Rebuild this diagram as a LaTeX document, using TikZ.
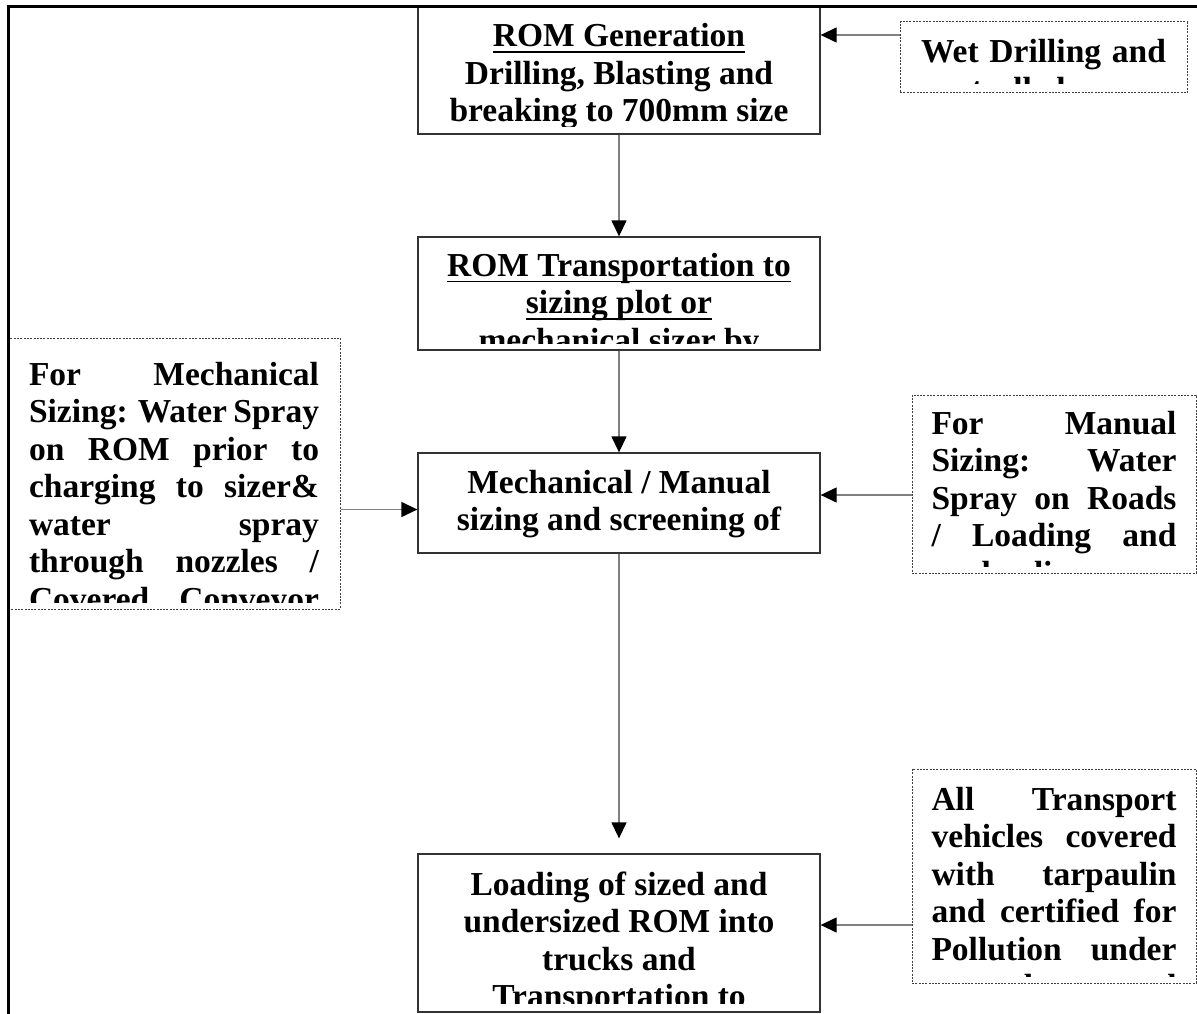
\documentclass[tikz,border=0pt]{standalone}
\usepackage{fontspec}
\setmainfont{Liberation Serif}
\usetikzlibrary{arrows.meta}
\newsavebox{\ulbox}
\newcommand{\ulin}[1]{\leavevmode\sbox{\ulbox}{#1}\rlap{\rule[-6.3pt]{\wd\ulbox}{1.8pt}}\usebox{\ulbox}}
\newcommand{\jl}[1]{\makebox[\linewidth][s]{#1}}
\newcommand{\clipinset}{7pt}
\tikzset{
  clipinset/.store in=\clipinset,
  flowbox/.style={draw=black!80, line width=1.3pt, minimum width=402pt, inner sep=0pt},
  notebox/.style={draw=black!75, line width=1pt, dash pattern=on 2pt off 1.3pt, inner sep=0pt},
  boxtext/.style 2 args={path picture={
      \clip ([yshift=\clipinset]path picture bounding box.south west)
        rectangle (path picture bounding box.north east);
      \node[anchor=base, inner sep=0pt, draw=none, solid, minimum width=0pt, minimum height=0pt,
        font=\fontsize{33.5pt}{37.5pt}\selectfont\bfseries]
        at ([yshift=-#1]path picture bounding box.north) {#2};}},
  flowarrow/.style={draw=black!50, line width=1.3pt, -{Triangle[length=16pt,width=15pt,color=black]}}
}
\begin{document}
\begin{tikzpicture}[x=1pt, y=-1pt]
  \useasboundingbox (0,0) rectangle (1197,1014);
  % main flow
  \node[flowbox, minimum height=128pt, boxtext={41pt}{\parbox[t]{390pt}{\centering
      \ulin{ROM Generation}\\ Drilling, Blasting and\\ breaking to 700mm size}}] (gen) at (619,70) {};
  \node[flowbox, minimum height=113pt, boxtext={39pt}{\parbox[t]{390pt}{\centering
      \ulin{ROM Transportation to}\\ \ulin{sizing plot or}\\ \ulin{mechanical sizer by}}}] (trans) at (619,293.5) {};
  \node[flowbox, minimum height=100pt, boxtext={40pt}{\parbox[t]{390pt}{\centering
      Mechanical / Manual\\ sizing and screening of}}] (size) at (619,503) {};
  \node[flowbox, minimum height=158pt, clipinset=9pt, boxtext={41pt}{\parbox[t]{390pt}{\centering
      Loading of sized and\\ undersized ROM into\\ trucks and\\ Transportation to}}] (load) at (619,933) {};
  % control measures
  \node[notebox, minimum width=287pt, minimum height=71pt, clipinset=9pt, boxtext={41pt}{\parbox[t]{245pt}{
      \jl{Wet Drilling and}\\ controlled}}] (wet) at (1043.5,57.5) {};
  \node[notebox, minimum width=332pt, minimum height=271pt, boxtext={47pt}{\parbox[t]{290pt}{
      \jl{For Mechanical}\\ \jl{Sizing: Water Spray}\\ \jl{on ROM prior to}\\
      \jl{charging to sizer\&}\\ \jl{water spray}\\ \jl{through nozzles /}\\
      \jl{Covered Conveyor}}}] (spray) at (174,473.5) {};
  \node[notebox, minimum width=284pt, minimum height=178pt, boxtext={39pt}{\parbox[t]{245pt}{
      \jl{For Manual}\\ \jl{Sizing: Water}\\ \jl{Spray on Roads}\\ \jl{/ Loading and}\\
      \jl{up loading areas}}}] (manual) at (1054,484) {};
  \node[notebox, minimum width=284pt, minimum height=214pt, boxtext={41pt}{\parbox[t]{245pt}{
      \jl{All Transport}\\ \jl{vehicles covered}\\ \jl{with tarpaulin}\\ \jl{and certified for}\\
      \jl{Pollution under}\\ \jl{control and}}}] (transport) at (1054,876) {};
  % connectors
  \coordinate (wetout) at ([yshift=22.5pt]wet.west);
  \coordinate (sprayout) at ([yshift=-36pt]spray.east);
  \coordinate (manualout) at ([yshift=-11pt]manual.west);
  \coordinate (transportout) at ([yshift=-49pt]transport.west);
  \draw[flowarrow] (wetout) -- (wetout -| gen.east);
  \draw[flowarrow] (gen.south) -- (trans.north);
  \draw[flowarrow] (trans.south) -- (size.north);
  \draw[flowarrow, shorten >=15pt] (size.south) -- (load.north);
  \draw[flowarrow] (sprayout) -- (sprayout -| size.west);
  \draw[flowarrow] (manualout) -- (manualout -| size.east);
  \draw[flowarrow] (transportout) -- (transportout -| load.east);
  % frame
  \draw[line width=3pt] (8,1014) -- (8,7) -- (1197,7);
\end{tikzpicture}
\end{document}
